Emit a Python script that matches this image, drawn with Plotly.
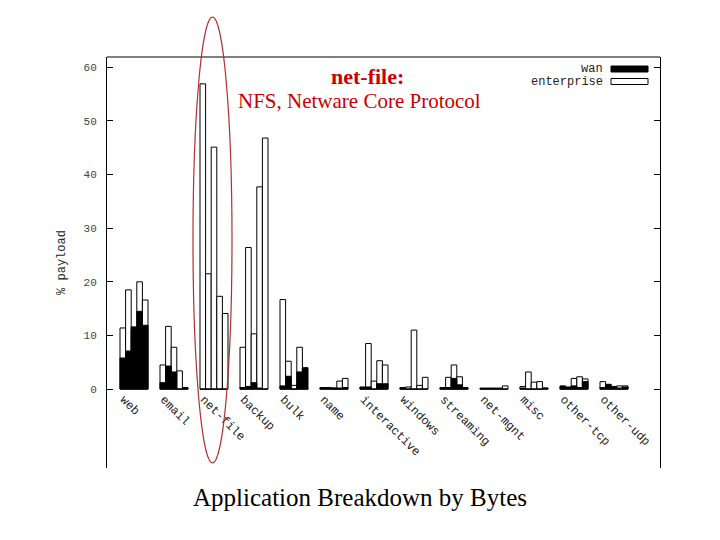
import plotly.graph_objects as go

categories = ["web", "email", "net-file", "backup", "bulk", "name", "interactive",
              "windows", "streaming", "net-mgnt", "misc", "other-tcp", "other-udp"]

# enterprise (% payload) per sub-dataset slot, one value per category
ent_s1 = [11.4, 4.5, 56.9, 7.8, 16.7, 0.2, 0.3, 0.2, 0.2, 0.1, 0.5, 0.3, 1.4]
ent_s2 = [18.5, 11.7, 21.5, 26.4, 5.2, 0.2, 8.5, 0.4, 2.2, 0.1, 3.2, 0.2, 0.3]
ent_s3 = [11.0, 7.8, 45.1, 10.3, 0.7, 0.2, 1.5, 11.0, 4.5, 0.1, 1.3, 2.0, 0.2]
ent_s4 = [20.0, 3.4, 17.3, 37.7, 7.8, 1.5, 5.3, 0.7, 2.3, 0.2, 1.4, 2.3, 0.6]
ent_s5 = [16.6, 0.2, 14.1, 46.8, 0.2, 2.0, 4.5, 2.2, 0.2, 0.6, 0.2, 1.9, 0.6]

# wan (% payload) per sub-dataset slot
wan_s1 = [5.8, 1.2, 0.0, 0.3, 0.6, 0.3, 0.4, 0.3, 0.3, 0.2, 0.2, 0.6, 0.3]
wan_s2 = [7.1, 4.3, 0.0, 0.5, 2.4, 0.3, 0.4, 0.0, 0.3, 0.2, 0.0, 0.4, 0.9]
wan_s3 = [11.6, 3.2, 0.0, 1.2, 0.0, 0.2, 0.0, 0.0, 2.0, 0.2, 0.0, 0.6, 0.5]
wan_s4 = [14.5, 0.0, 0.0, 0.2, 3.2, 0.2, 1.0, 0.0, 0.8, 0.1, 0.0, 0.3, 0.2]
wan_s5 = [11.9, 0.3, 0.0, 0.0, 4.0, 0.3, 1.0, 0.0, 0.3, 0.0, 0.2, 1.4, 0.4]

y_ticks = [0, 10, 20, 30, 40, 50, 60]

ent_slots = [ent_s1, ent_s2, ent_s3, ent_s4, ent_s5]
wan_slots = [wan_s1, wan_s2, wan_s3, wan_s4, wan_s5]
xpos = list(range(len(categories)))

MONO = "Liberation Mono, DejaVu Sans Mono, monospace"
SERIF = "Liberation Serif, Times New Roman, serif"

fig = go.Figure()
for k, vals in enumerate(ent_slots):
    fig.add_trace(go.Bar(x=xpos, y=vals, name="enterprise", offsetgroup=str(k),
                         marker=dict(color="white", line=dict(color="black", width=1)),
                         showlegend=False))
for k, vals in enumerate(wan_slots):
    fig.add_trace(go.Bar(x=xpos, y=vals, name="wan", offsetgroup=str(k),
                         marker=dict(color="black", line=dict(color="black", width=1)),
                         showlegend=False))

# page body adds an 8px offset; work in screenshot pixel coordinates
OFF = 8
W, H = 720 - OFF, 540 - OFF
L, T = 107 - OFF, 57 - OFF
R = W - (660 - OFF)
B = H - (468 - OFF)
pw, ph = W - L - R, H - T - B
ymin, ymax = -14.7, 61.9

def px(x):
    return (x - OFF - L) / pw

def py(y):
    return (H - B - (y - OFF)) / ph

fig.update_layout(
    width=W, height=H,
    margin=dict(l=L, r=R, t=T, b=B, autoexpand=False),
    paper_bgcolor="white", plot_bgcolor="white",
    barmode="group", bargap=0.3, bargroupgap=0.0,
    xaxis=dict(range=[-0.675, 13.15], tickvals=xpos, ticktext=categories,
               tickangle=45, showgrid=False, zeroline=False, showline=False,
               ticks="", anchor="free", position=(0 - ymin) / (ymax - ymin),
               ticklabelshift=-10, ticklabelstandoff=0, automargin=False,
               tickfont=dict(family=MONO, size=12, color="#222")),
    yaxis=dict(range=[ymin, ymax], tickvals=y_ticks, showgrid=False, zeroline=False,
               showline=True, linecolor="black", linewidth=1, mirror="ticks",
               ticks="inside", ticklen=6, tickcolor="black", automargin=False,
               ticklabelstandoff=7,
               tickfont=dict(family=MONO, size=11, color="#444"),
               title=dict(text="% payload", font=dict(family=MONO, size=12, color="#222"),
                          standoff=15)),
    font=dict(family=MONO),
)

shapes = [
    # top frame line
    dict(type="line", xref="paper", yref="paper", x0=0, x1=1, y0=1, y1=1,
         line=dict(color="black", width=1)),
    # red ellipse around net-file
    dict(type="circle", xref="paper", yref="paper",
         x0=px(193), x1=px(232), y0=py(463), y1=py(17),
         line=dict(color="#b03030", width=1.2)),
    # legend keys
    dict(type="rect", xref="paper", yref="paper", x0=px(611), x1=px(648),
         y0=py(72), y1=py(66), fillcolor="black", line=dict(color="black", width=1)),
    dict(type="rect", xref="paper", yref="paper", x0=px(611), x1=px(648),
         y0=py(84.5), y1=py(78.5), fillcolor="white", line=dict(color="black", width=1)),
]
fig.update_layout(shapes=shapes)

annotations = [
    dict(text="wan", xref="paper", yref="paper", x=px(605), y=py(69), xanchor="right",
         yanchor="middle", showarrow=False, font=dict(family=MONO, size=12, color="#222")),
    dict(text="enterprise", xref="paper", yref="paper", x=px(605), y=py(81.5),
         xanchor="right", yanchor="middle", showarrow=False,
         font=dict(family=MONO, size=12, color="#222")),
    dict(text="<b>net-file:</b>", xref="paper", yref="paper", x=px(367), y=py(76),
         xanchor="center", yanchor="middle", showarrow=False,
         font=dict(family=SERIF, size=22, color="#c80000")),
    dict(text="NFS, Netware Core Protocol", xref="paper", yref="paper", x=px(359), y=py(101),
         xanchor="center", yanchor="middle", showarrow=False,
         font=dict(family=SERIF, size=21, color="#c80000")),
    dict(text="Application Breakdown by Bytes", xref="paper", yref="paper",
         x=px(360), y=py(497), xanchor="center", yanchor="middle", showarrow=False,
         font=dict(family=SERIF, size=25, color="black")),
]
fig.update_layout(annotations=annotations)

fig.write_html("out.html")
